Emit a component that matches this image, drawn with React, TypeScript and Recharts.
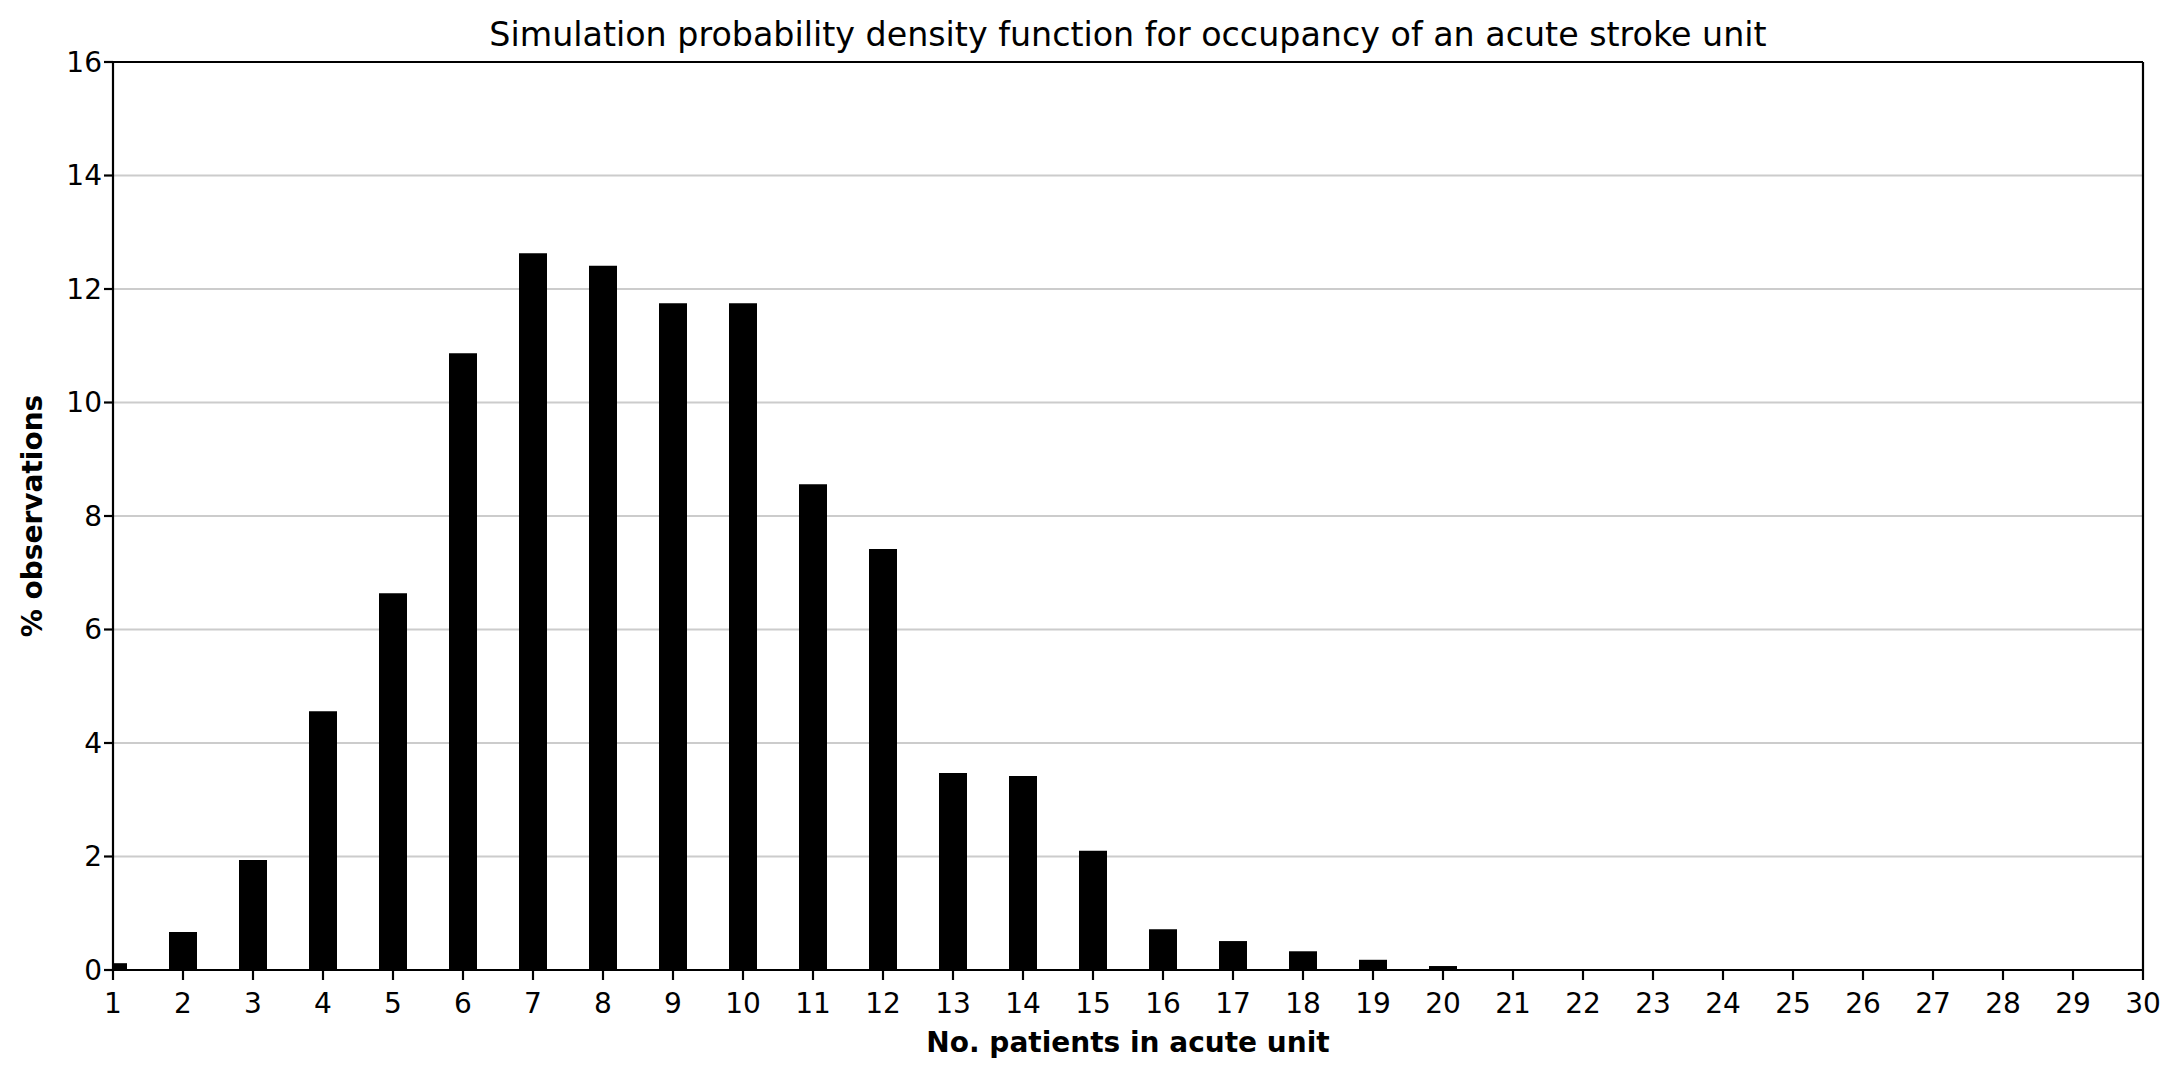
import React from 'react';
import { BarChart, Bar, XAxis, YAxis, CartesianGrid, ReferenceLine } from 'recharts';

// occupancy (no. patients) vs % of simulated observations
const patients = [
  1, 2, 3, 4, 5, 6, 7, 8, 9, 10, 11, 12, 13, 14, 15,
  16, 17, 18, 19, 20, 21, 22, 23, 24, 25, 26, 27, 28, 29, 30,
];
const pctObservations = [
  0.12, 0.67, 1.94, 4.56, 6.64, 10.87, 12.63, 12.41, 11.75, 11.75, 8.56, 7.42, 3.47, 3.42, 2.1,
  0.72, 0.51, 0.33, 0.18, 0.07, 0, 0, 0, 0, 0, 0, 0, 0, 0, 0,
];
const yTicks = [0, 2, 4, 6, 8, 10, 12, 14, 16];

const W = 2180;
const H = 1077;
const FONT = '"DejaVu Sans", sans-serif';

const data = patients.map((p, i) => ({ patients: p, pct: pctObservations[i] }));

export default function App() {
  const tick = { fill: '#000', fontSize: 28, fontFamily: FONT };
  return (
    <div style={{ position: 'fixed', left: 0, top: 0, width: W, height: H, background: '#fff' }}>
      <BarChart
        width={W}
        height={H}
        data={data}
        margin={{ top: 62, right: 37, bottom: 0, left: 0 }}
      >
        <CartesianGrid vertical={false} stroke="#cccccc" strokeWidth={2} />
        <XAxis
          dataKey="patients"
          type="number"
          domain={[1, 30]}
          ticks={patients}
          interval={0}
          allowDataOverflow
          height={107}
          tick={tick}
          tickSize={10}
          tickMargin={13}
          stroke="#000"
          strokeWidth={2.2}
        />
        <YAxis
          domain={[0, 16]}
          ticks={yTicks}
          width={113}
          tick={tick}
          tickSize={9}
          tickMargin={2}
          stroke="#000"
          strokeWidth={2.2}
        />
        <ReferenceLine y={16} stroke="#000" strokeWidth={2.2} />
        <ReferenceLine x={30} stroke="#000" strokeWidth={2.2} />
        <Bar dataKey="pct" fill="#000" barSize={28} isAnimationActive={false} />
      </BarChart>
      <svg
        width={W}
        height={H}
        style={{ position: 'absolute', left: 0, top: 0, pointerEvents: 'none' }}
        fontFamily={FONT}
      >
        <text x={1128} y={46} fontSize={33.3} textAnchor="middle" fill="#000">
          Simulation probability density function for occupancy of an acute stroke unit
        </text>
        <text x={1128} y={1052} fontSize={28} fontWeight="bold" textAnchor="middle" fill="#000">
          No. patients in acute unit
        </text>
        <text
          transform="translate(42,516) rotate(-90)"
          fontSize={28}
          fontWeight="bold"
          textAnchor="middle"
          fill="#000"
        >
          % observations
        </text>
      </svg>
    </div>
  );
}
